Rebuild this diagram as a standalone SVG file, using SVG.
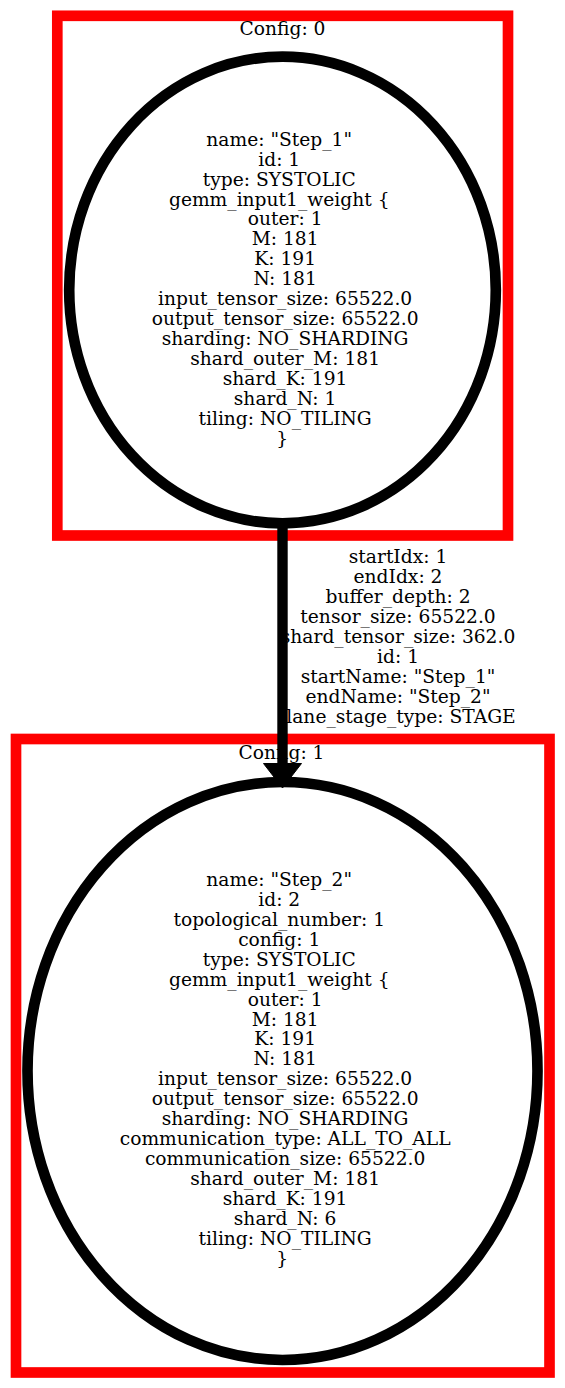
<svg xmlns="http://www.w3.org/2000/svg" width="565" height="1388" viewBox="0 0 565 1388">
<style>
.cluster{fill:none;stroke:#ff0000;stroke-width:10.67}
.node{fill:none;stroke:#000;stroke-width:10.67}
text{font-family:"DejaVu Serif","Liberation Serif",serif;font-size:18.67px;fill:#000;text-anchor:middle}
.edge{stroke:#000;stroke-width:10.4;fill:none}
</style>
<rect width="565" height="1388" fill="#fff"/>
<g id="cluster_0">
<rect class="cluster" x="57.3" y="15.8" width="450.7" height="519.7"/>
<text x="282.5" y="35">Config: 0</text>
</g>
<g id="cluster_1">
<rect class="cluster" x="16" y="739" width="533.5" height="633.5"/>
<text x="281.5" y="759.3">Config: 1</text>
</g>
<g id="node_step1">
<ellipse class="node" cx="282.5" cy="290" rx="213.3" ry="233.3"/>
<text>
<tspan x="282.2" y="145.7">name: "Step_1"</tspan>
<tspan x="282.2" y="165.6">id: 1</tspan>
<tspan x="282.2" y="185.6">type: SYSTOLIC</tspan>
<tspan x="282.2" y="205.5">gemm_input1_weight {</tspan>
<tspan x="288.1" y="225.4">outer: 1</tspan>
<tspan x="288.1" y="245.4">M: 181</tspan>
<tspan x="288.1" y="265.3">K: 191</tspan>
<tspan x="288.1" y="285.2">N: 181</tspan>
<tspan x="288.1" y="305.1">input_tensor_size: 65522.0</tspan>
<tspan x="288.1" y="325.1">output_tensor_size: 65522.0</tspan>
<tspan x="288.1" y="345.0">sharding: NO_SHARDING</tspan>
<tspan x="288.1" y="364.9">shard_outer_M: 181</tspan>
<tspan x="288.1" y="384.9">shard_K: 191</tspan>
<tspan x="288.1" y="404.8">shard_N: 1</tspan>
<tspan x="288.1" y="424.7">tiling: NO_TILING</tspan>
<tspan x="282.2" y="444.7">}</tspan>
</text>
</g>
<g id="node_step2">
<ellipse class="node" cx="282.5" cy="1071" rx="255" ry="289"/>
<text>
<tspan x="282.2" y="886.0">name: "Step_2"</tspan>
<tspan x="282.2" y="905.9">id: 2</tspan>
<tspan x="282.2" y="925.9">topological_number: 1</tspan>
<tspan x="282.2" y="945.8">config: 1</tspan>
<tspan x="282.2" y="965.7">type: SYSTOLIC</tspan>
<tspan x="282.2" y="985.7">gemm_input1_weight {</tspan>
<tspan x="288.1" y="1005.6">outer: 1</tspan>
<tspan x="288.1" y="1025.5">M: 181</tspan>
<tspan x="288.1" y="1045.4">K: 191</tspan>
<tspan x="288.1" y="1065.4">N: 181</tspan>
<tspan x="288.1" y="1085.3">input_tensor_size: 65522.0</tspan>
<tspan x="288.1" y="1105.2">output_tensor_size: 65522.0</tspan>
<tspan x="288.1" y="1125.2">sharding: NO_SHARDING</tspan>
<tspan x="288.1" y="1145.1">communication_type: ALL_TO_ALL</tspan>
<tspan x="288.1" y="1165.0">communication_size: 65522.0</tspan>
<tspan x="288.1" y="1185.0">shard_outer_M: 181</tspan>
<tspan x="288.1" y="1204.9">shard_K: 191</tspan>
<tspan x="288.1" y="1224.8">shard_N: 6</tspan>
<tspan x="288.1" y="1244.7">tiling: NO_TILING</tspan>
<tspan x="282.2" y="1264.7">}</tspan>
</text>
</g>
<g id="connectors">
<g id="edge_step1_step2">
<text>
<tspan x="401" y="563.3">startIdx: 1</tspan>
<tspan x="401" y="583.2">endIdx: 2</tspan>
<tspan x="401" y="603.2">buffer_depth: 2</tspan>
<tspan x="401" y="623.1">tensor_size: 65522.0</tspan>
<tspan x="401" y="643.0">shard_tensor_size: 362.0</tspan>
<tspan x="401" y="663.0">id: 1</tspan>
<tspan x="401" y="682.9">startName: "Step_1"</tspan>
<tspan x="401" y="702.8">endName: "Step_2"</tspan>
<tspan x="401" y="722.7">lane_stage_type: STAGE</tspan>
</text>
<line class="edge" x1="282.5" y1="526" x2="282.5" y2="766"/>
<polygon points="263.5,763.5 301.5,763.5 282.5,788" fill="#000" stroke="#000" stroke-width="1"/>
</g>
</g>
</svg>
